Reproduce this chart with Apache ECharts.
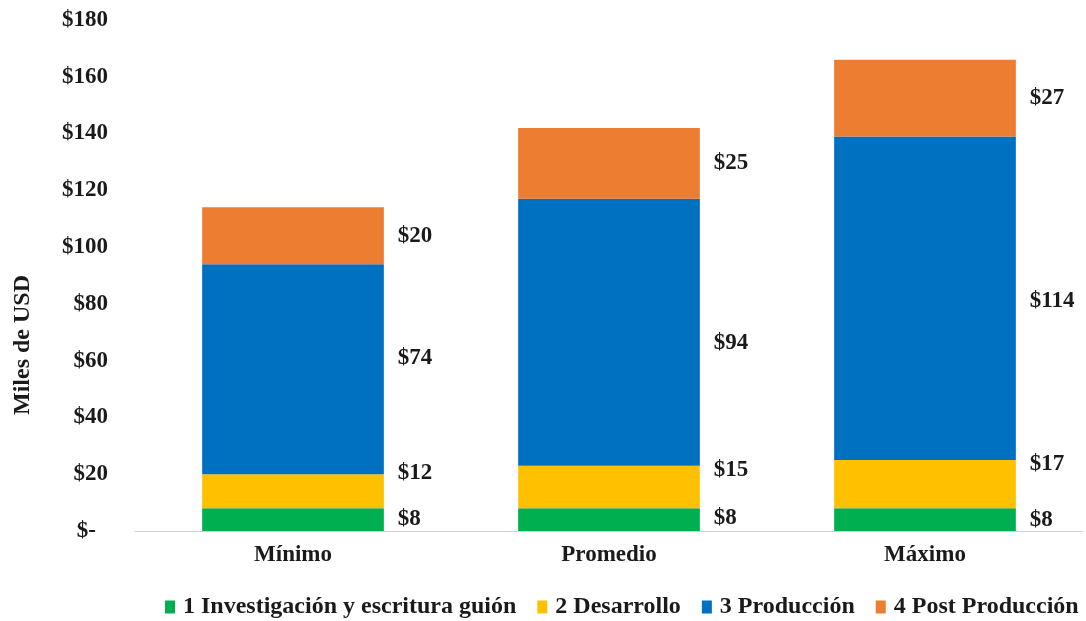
<!DOCTYPE html>
<html><head><meta charset="utf-8">
<script src="https://cdn.jsdelivr.net/npm/echarts@6/dist/echarts.min.js"></script>
<style>html,body{margin:0;padding:0;background:#fff}#c{width:1086px;height:621px}</style>
</head><body><div id="c"></div>
<script>
const categories = ['Mínimo', 'Promedio', 'Máximo'];
const seriesNames = ['1 Investigación y escritura guión', '2 Desarrollo', '3 Producción', '4 Post Producción'];
const investigacion = [8, 8, 8];
const desarrollo = [12, 15, 17];
const produccion = [74, 94, 114];
const postProduccion = [20, 25, 27];
const yTicks = [0, 20, 40, 60, 80, 100, 120, 140, 160, 180];
const yTitle = 'Miles de USD';

const colors = ['#00B050', '#FFC000', '#0070C0', '#ED7D31'];
const FONT = '"Liberation Serif", "Times New Roman", serif';
const TXT = '#1a1a1a';
// label vertical nudges (px) per series per category, to mimic the manual placement
const labelNudge = [
  [-1, -2, 0],
  [-18, -17, -20],
  [-11, 11, 3],
  [0, 0, 0]
];
const values = [investigacion, desarrollo, produccion, postProduccion];

const series = values.map((arr, si) => ({
  name: seriesNames[si],
  type: 'bar',
  stack: 'total',
  barWidth: '57.5%',
  itemStyle: { color: colors[si] },
  data: arr.map((v, ci) => ({
    value: v,
    label: { offset: [0, labelNudge[si][ci]] }
  })),
  label: {
    show: true,
    position: 'right',
    distance: 14,
    formatter: p => '$' + p.value,
    fontFamily: FONT,
    fontWeight: 'bold',
    fontSize: 23,
    color: TXT
  }
}));

const chart = echarts.init(document.getElementById('c'));
chart.setOption({
  animation: false,
  color: colors,
  grid: { left: 135, right: 3, top: 20, bottom: 90, containLabel: false },
  legend: {
    top: 590,
    left: 160,
    itemWidth: 10,
    itemHeight: 13,
    itemGap: 21,
    icon: 'rect',
    textStyle: { fontFamily: FONT, fontWeight: 'bold', fontSize: 24, color: TXT, padding: [0, 0, 0, 3] },
    data: seriesNames
  },
  graphic: [{
    type: 'text',
    x: 23,
    y: 345,
    rotation: Math.PI / 2,
    style: {
      text: yTitle,
      fontFamily: FONT, fontWeight: 'bold', fontSize: 24, fill: TXT,
      align: 'center', verticalAlign: 'middle'
    }
  }],
  xAxis: {
    type: 'category',
    data: categories,
    axisLine: { lineStyle: { color: '#d0d0d0', width: 1 } },
    axisTick: { show: false },
    axisLabel: { fontFamily: FONT, fontWeight: 'bold', fontSize: 23, color: TXT, margin: 13 }
  },
  yAxis: {
    type: 'value',
    min: 0,
    max: 180,
    interval: 20,
    axisLine: { show: false },
    axisTick: { show: false },
    splitLine: { show: false },
    axisLabel: {
      margin: 27,
      fontFamily: FONT, fontWeight: 'bold', fontSize: 23, color: TXT,
      formatter: v => yTicks.includes(v) ? (v === 0 ? '{z|$-}' : '$' + v) : '',
      rich: { z: { fontFamily: FONT, fontWeight: 'bold', fontSize: 23, color: TXT, padding: [0, 12, 0, 0] } }
    }
  },
  series: series
});
</script>
</body></html>
